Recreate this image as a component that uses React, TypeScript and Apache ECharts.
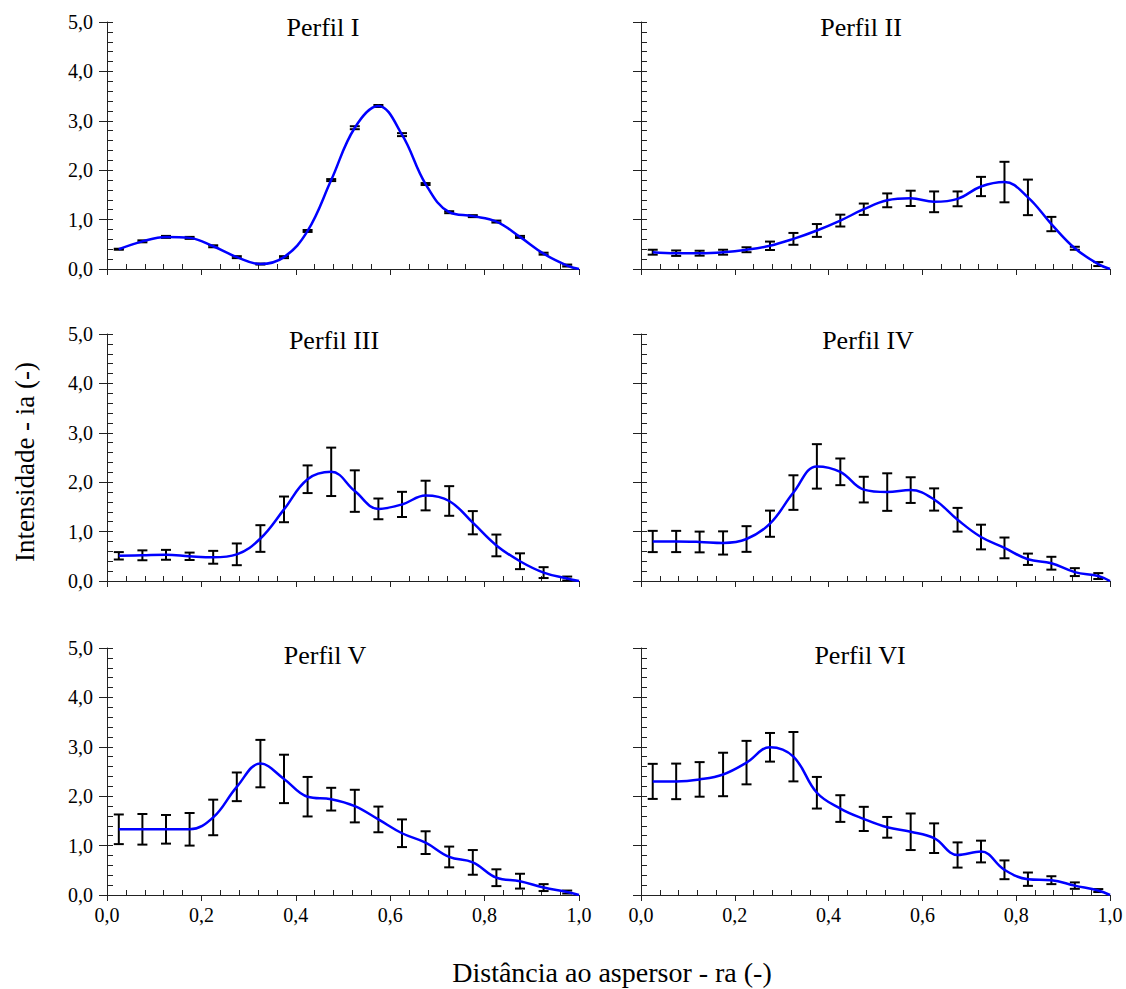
import React, { useEffect, useRef } from "react";
import * as echarts from "echarts";

const XS = [0.025, 0.075, 0.125, 0.175, 0.225, 0.275, 0.325, 0.375, 0.425, 0.475, 0.525, 0.575, 0.625, 0.675, 0.725, 0.775, 0.825, 0.875, 0.925, 0.975];
const END_POINT = [1.0, 0.0];

const TITLES = ["Perfil I", "Perfil II", "Perfil III", "Perfil IV", "Perfil V", "Perfil VI"];

const P1_MEAN = [0.40, 0.56, 0.65, 0.63, 0.46, 0.24, 0.10, 0.24, 0.77, 1.80, 2.86, 3.30, 2.72, 1.72, 1.15, 1.07, 0.96, 0.65, 0.31, 0.07];
const P1_ERR = [0.01, 0.02, 0.02, 0.02, 0.02, 0.02, 0.01, 0.02, 0.02, 0.02, 0.03, 0.02, 0.03, 0.02, 0.02, 0.02, 0.02, 0.02, 0.02, 0.02];

const P2_MEAN = [0.34, 0.32, 0.32, 0.34, 0.39, 0.47, 0.61, 0.78, 0.98, 1.21, 1.39, 1.43, 1.36, 1.42, 1.67, 1.76, 1.45, 0.91, 0.42, 0.10];
const P2_ERR = [0.05, 0.055, 0.05, 0.05, 0.05, 0.085, 0.12, 0.13, 0.12, 0.115, 0.14, 0.155, 0.21, 0.15, 0.195, 0.41, 0.36, 0.145, 0.03, 0.04];

const P3_MEAN = [0.51, 0.52, 0.53, 0.50, 0.48, 0.54, 0.86, 1.45, 2.06, 2.21, 1.82, 1.46, 1.55, 1.73, 1.62, 1.18, 0.72, 0.40, 0.17, 0.05];
const P3_ERR = [0.075, 0.10, 0.10, 0.075, 0.13, 0.22, 0.27, 0.26, 0.28, 0.49, 0.42, 0.21, 0.255, 0.30, 0.30, 0.235, 0.22, 0.16, 0.11, 0.04];

const P4_MEAN = [0.80, 0.80, 0.79, 0.77, 0.85, 1.16, 1.79, 2.32, 2.21, 1.85, 1.80, 1.84, 1.65, 1.24, 0.89, 0.67, 0.44, 0.36, 0.18, 0.10];
const P4_ERR = [0.215, 0.215, 0.21, 0.235, 0.26, 0.265, 0.35, 0.45, 0.27, 0.26, 0.38, 0.26, 0.225, 0.24, 0.25, 0.21, 0.115, 0.13, 0.08, 0.06];

const P5_MEAN = [1.33, 1.33, 1.33, 1.33, 1.57, 2.19, 2.66, 2.35, 1.99, 1.94, 1.80, 1.53, 1.25, 1.06, 0.77, 0.66, 0.35, 0.28, 0.15, 0.06];
const P5_ERR = [0.30, 0.31, 0.29, 0.33, 0.36, 0.29, 0.48, 0.49, 0.40, 0.23, 0.33, 0.26, 0.28, 0.23, 0.21, 0.25, 0.17, 0.15, 0.07, 0.03];

const P6_MEAN = [2.30, 2.30, 2.34, 2.44, 2.68, 2.99, 2.80, 2.07, 1.75, 1.54, 1.37, 1.28, 1.15, 0.81, 0.88, 0.51, 0.32, 0.30, 0.19, 0.09];
const P6_ERR = [0.355, 0.36, 0.35, 0.44, 0.44, 0.29, 0.50, 0.32, 0.27, 0.245, 0.21, 0.37, 0.30, 0.255, 0.22, 0.19, 0.135, 0.08, 0.065, 0.03];

const MEANS = [P1_MEAN, P2_MEAN, P3_MEAN, P4_MEAN, P5_MEAN, P6_MEAN];
const ERRS = [P1_ERR, P2_ERR, P3_ERR, P4_ERR, P5_ERR, P6_ERR];

const Y_TITLE = "Intensidade - ia (-)";
const X_TITLE = "Distância ao aspersor - ra (-)";

const FONT = "Liberation Serif";
const AXIS_COLOR = "#222";

const COL_LEFT = [107, 641];
const COL_WIDTH = [472, 469];
const ROW_TOP = [22, 334, 648];
const ROW_HEIGHT = 247;
const TITLE_POS = [
  [323, 27],
  [861, 27],
  [334, 340],
  [868, 340],
  [325, 655],
  [860, 655],
];

const fmt = (v: number) => v.toFixed(1).replace(".", ",");

export default function App() {
  const ref = useRef<HTMLDivElement>(null);
  useEffect(() => {
    if (!ref.current) return;
    const chart = echarts.init(ref.current, undefined, { renderer: "svg" });
    const grids: any[] = [];
    const xAxes: any[] = [];
    const yAxes: any[] = [];
    const series: any[] = [];
    const graphics: any[] = [];
    for (let i = 0; i < 6; i++) {
      const row = Math.floor(i / 2);
      const col = i % 2;
      grids.push({ left: COL_LEFT[col], top: ROW_TOP[row], width: COL_WIDTH[col], height: ROW_HEIGHT, containLabel: false });
      xAxes.push({
        type: "value",
        gridIndex: i,
        min: 0,
        max: 1,
        interval: 0.2,
        axisLine: { show: true, lineStyle: { color: AXIS_COLOR, width: 1 } },
        axisTick: { show: true, inside: false, length: 6, lineStyle: { color: AXIS_COLOR, width: 1 } },
        minorTick: { show: true, splitNumber: 5, length: -5, lineStyle: { color: AXIS_COLOR, width: 1 } },
        splitLine: { show: false },
        axisLabel: { show: row === 2, formatter: fmt, fontFamily: FONT, fontSize: 20, color: "#000", margin: 10 },
      });
      yAxes.push({
        type: "value",
        gridIndex: i,
        position: "left",
        min: 0,
        max: 5,
        interval: 1,
        axisLine: { show: true, lineStyle: { color: AXIS_COLOR, width: 1 } },
        axisTick: { show: true, inside: false, length: 8, lineStyle: { color: AXIS_COLOR, width: 1 } },
        minorTick: { show: true, splitNumber: 5, length: -6, lineStyle: { color: AXIS_COLOR, width: 1 } },
        splitLine: { show: false },
        axisLabel: { show: col === 0, formatter: fmt, fontFamily: FONT, fontSize: 20, color: "#000", margin: 14 },
      });
      yAxes.push({
        type: "value",
        gridIndex: i,
        position: "left",
        min: 0,
        max: 5,
        interval: 1,
        axisLine: { show: false },
        axisTick: { show: true, inside: true, length: 6, lineStyle: { color: AXIS_COLOR, width: 1 } },
        splitLine: { show: false },
        axisLabel: { show: false },
      });
      const mean = MEANS[i];
      const err = ERRS[i];
      series.push({
        type: "custom",
        xAxisIndex: i,
        yAxisIndex: i * 2,
        data: XS.map((x, k) => [x, mean[k] - err[k], mean[k] + err[k]]),
        encode: { x: 0, y: [1, 2] },
        renderItem: (params: any, api: any) => {
          const x = api.value(0);
          const lo = api.coord([x, api.value(1)]);
          const hi = api.coord([x, api.value(2)]);
          const w = 5;
          const st = { stroke: "#000", lineWidth: 2 };
          return {
            type: "group",
            children: [
              { type: "line", shape: { x1: lo[0], y1: lo[1], x2: hi[0], y2: hi[1] }, style: st },
              { type: "line", shape: { x1: lo[0] - w, y1: lo[1], x2: lo[0] + w, y2: lo[1] }, style: st },
              { type: "line", shape: { x1: hi[0] - w, y1: hi[1], x2: hi[0] + w, y2: hi[1] }, style: st },
            ],
          };
        },
        z: 2,
      });
      series.push({
        type: "line",
        xAxisIndex: i,
        yAxisIndex: i * 2,
        data: [...XS.map((x, k) => [x, mean[k]]), END_POINT],
        smooth: 0.4,
        showSymbol: false,
        symbol: "none",
        lineStyle: { color: "#0000ff", width: 2.5 },
        z: 3,
      });
      graphics.push({
        type: "text",
        x: TITLE_POS[i][0],
        y: TITLE_POS[i][1],
        style: { text: TITLES[i], fontFamily: FONT, fontSize: 26, fill: "#000", align: "center", verticalAlign: "middle" },
      });
    }
    graphics.push({
      type: "text",
      x: 25,
      y: 462,
      rotation: Math.PI / 2,
      style: { text: Y_TITLE, fontFamily: FONT, fontSize: 27, fill: "#000", align: "center", verticalAlign: "middle" },
    });
    graphics.push({
      type: "text",
      x: 612,
      y: 972,
      style: { text: X_TITLE, fontFamily: FONT, fontSize: 28, fill: "#000", align: "center", verticalAlign: "middle" },
    });
    chart.setOption({
      animation: false,
      backgroundColor: "#fff",
      textStyle: { fontFamily: FONT },
      grid: grids,
      xAxis: xAxes,
      yAxis: yAxes,
      series,
      graphic: graphics,
    });
    return () => chart.dispose();
  }, []);
  return <div ref={ref} style={{ position: "fixed", left: 0, top: 0, width: 1126, height: 989 }} />;
}
